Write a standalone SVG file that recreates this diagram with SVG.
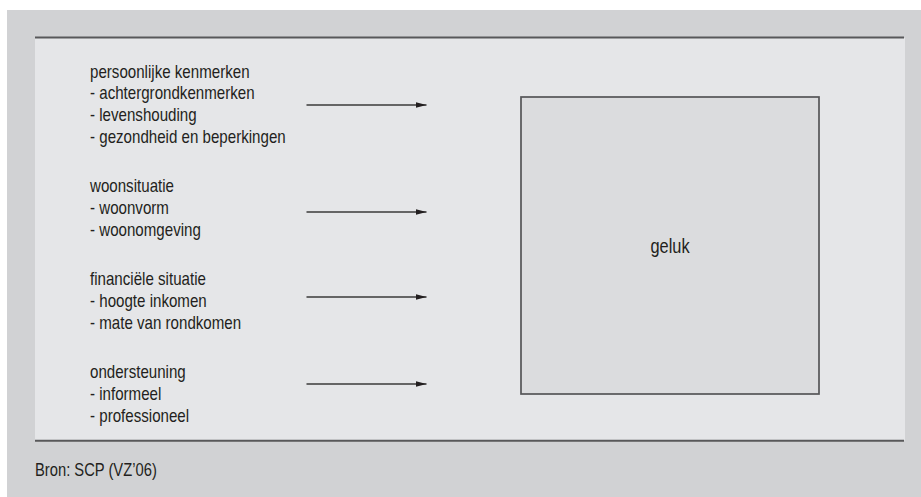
<svg xmlns="http://www.w3.org/2000/svg" width="921" height="497" viewBox="0 0 921 497">
<style>
.t{font-family:"Liberation Sans",Arial,sans-serif;font-size:18px;fill:#231f20;}
.rule{stroke:#58585a;stroke-width:2;fill:none;}
.conn{stroke:#3a3a3a;stroke-width:1.4;fill:none;}
</style>
<defs>
<marker id="ah" markerUnits="userSpaceOnUse" markerWidth="12" markerHeight="7" refX="11" refY="3" orient="auto">
<path d="M0,0 L11,3 L0,6 z" fill="#231f20"/>
</marker>
</defs>
<rect x="0" y="0" width="921" height="497" fill="#ffffff"/>
<rect x="7" y="10" width="914" height="487" fill="#d1d2d4"/>
<rect x="35" y="38" width="870" height="402.5" fill="#e5e6e8"/>
<line class="rule" x1="35" y1="37.5" x2="904" y2="37.5"/>
<line class="rule" x1="35" y1="440.8" x2="904" y2="440.8"/>

<g id="persoonlijke-kenmerken" transform="translate(90,0) scale(0.84,1)">
<text class="t" x="0" y="77.7">persoonlijke kenmerken</text>
<text class="t" x="0" y="99.4">- achtergrondkenmerken</text>
<text class="t" x="0" y="121.1">- levenshouding</text>
<text class="t" x="0" y="142.8">- gezondheid en beperkingen</text>
</g>
<g id="woonsituatie" transform="translate(90,0) scale(0.84,1)">
<text class="t" x="0" y="192.2">woonsituatie</text>
<text class="t" x="0" y="213.9">- woonvorm</text>
<text class="t" x="0" y="235.6">- woonomgeving</text>
</g>
<g id="financiele-situatie" transform="translate(90,0) scale(0.84,1)">
<text class="t" x="0" y="285.2">financiële situatie</text>
<text class="t" x="0" y="306.9">- hoogte inkomen</text>
<text class="t" x="0" y="328.6">- mate van rondkomen</text>
</g>
<g id="ondersteuning" transform="translate(90,0) scale(0.84,1)">
<text class="t" x="0" y="378.2">ondersteuning</text>
<text class="t" x="0" y="399.9">- informeel</text>
<text class="t" x="0" y="421.6">- professioneel</text>
</g>

<g id="geluk">
<rect x="521" y="97" width="298" height="297" fill="#dbdcde" stroke="#555557" stroke-width="1.7"/>
<text class="t" transform="translate(670,0) scale(0.84,1)" x="0" y="253.3" text-anchor="middle" style="font-size:19.5px">geluk</text>
</g>

<g id="connectors">
<line class="conn" x1="306.5" y1="105" x2="426.5" y2="105" marker-end="url(#ah)"/>
<line class="conn" x1="306.5" y1="212" x2="426.5" y2="212" marker-end="url(#ah)"/>
<line class="conn" x1="306.5" y1="297" x2="426.5" y2="297" marker-end="url(#ah)"/>
<line class="conn" x1="306.5" y1="384" x2="426.5" y2="384" marker-end="url(#ah)"/>
</g>

<text class="t" transform="translate(35,0) scale(0.82,1)" x="0" y="476">Bron: SCP (VZ’06)</text>
</svg>
